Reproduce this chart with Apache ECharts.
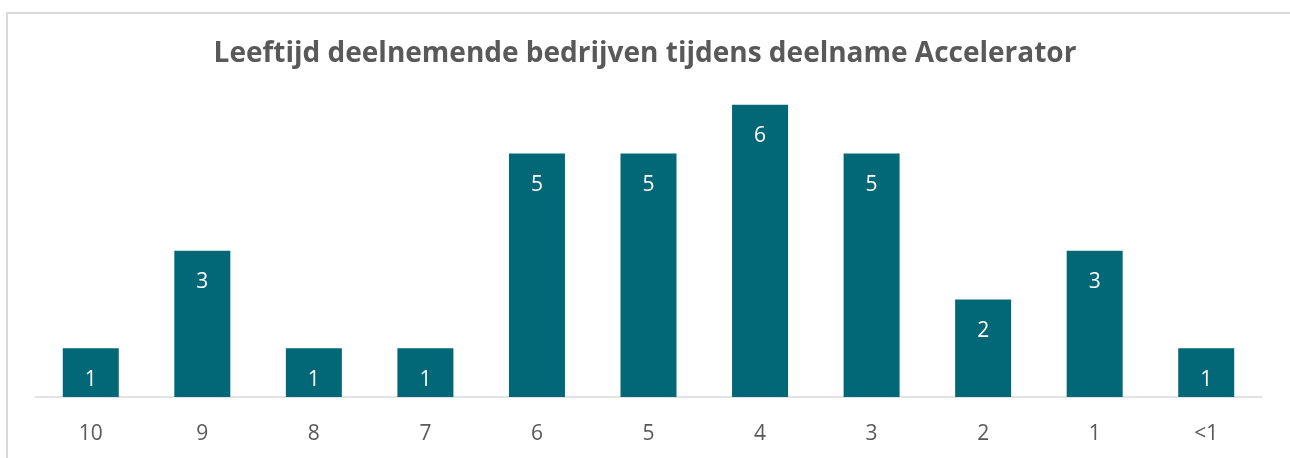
<!DOCTYPE html>
<html>
<head>
<meta charset="utf-8">
<script src="https://cdn.jsdelivr.net/npm/echarts@6/dist/echarts.min.js"></script>
<style>
  html, body { margin: 0; padding: 0; background: #fff; }
  #frame { position: absolute; left: 6px; top: 12px; width: 1300px; height: 460px;
           border-left: 2px solid #d9d9d9; border-top: 2px solid #d9d9d9; box-sizing: border-box; }
  #chart { position: absolute; left: 0; top: 0; width: 1290px; height: 458px; }
</style>
</head>
<body>
<div id="frame"></div>
<div id="chart"></div>
<script>
const titleText = 'Leeftijd deelnemende bedrijven tijdens deelname Accelerator'
const categories = ['10', '9', '8', '7', '6', '5', '4', '3', '2', '1', '<1']
const counts = [1, 3, 1, 1, 5, 5, 6, 5, 2, 3, 1]

const chart = echarts.init(document.getElementById('chart'))
chart.setOption({
  animation: false,
  title: {
    text: titleText,
    left: 'center',
    top: 35,
    textStyle: {
      fontFamily: 'Open Sans',
      fontWeight: 'bold',
      fontSize: 28,
      color: '#595959'
    }
  },
  grid: { left: 35, right: 28, top: 56, bottom: 61 },
  xAxis: {
    type: 'category',
    data: categories,
    axisLine: { lineStyle: { color: '#d9d9d9', width: 1.5 } },
    axisTick: { show: false },
    axisLabel: {
      color: '#595959',
      fontFamily: 'Open Sans',
      fontSize: 21,
      margin: 27
    }
  },
  yAxis: {
    type: 'value',
    min: 0,
    max: 7,
    show: false,
    splitLine: { show: false }
  },
  series: [
    {
      type: 'bar',
      data: counts,
      barWidth: 56,
      itemStyle: { color: '#026877' },
      label: {
        show: true,
        position: 'insideTop',
        distance: 21,
        color: '#ffffff',
        fontFamily: 'Open Sans',
        fontSize: 21
      }
    }
  ]
})
</script>
</body>
</html>
